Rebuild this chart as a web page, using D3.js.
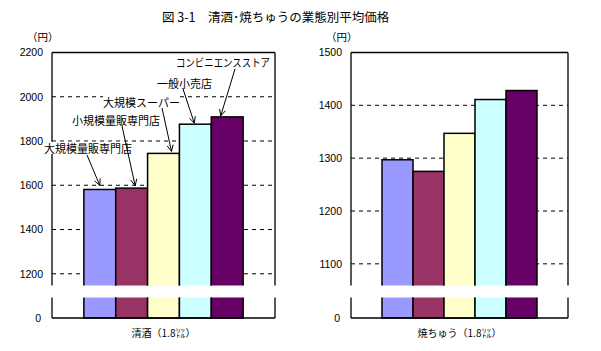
<!DOCTYPE html>
<html>
<head>
<meta charset="utf-8">
<script src="https://cdn.jsdelivr.net/npm/d3@7"></script>
<style>
  body { margin: 0; background: #fff; }
  text { font-family: "Noto Sans CJK JP", sans-serif; fill: #000; }
  .tick text { font-family: "Liberation Sans", Arial, sans-serif; font-size: 10.5px; }
</style>
</head>
<body>
<script>
// data
const stores = ['大規模量販専門店', '小規模量販専門店', '大規模スーパー', '一般小売店', 'コンビニエンスストア'];
const colors = ['#9999ff', '#993366', '#ffffcc', '#ccffff', '#660066'];
const sakePrice = [1581, 1587, 1744, 1876, 1909];
const shochuPrice = [1297, 1275, 1347, 1411, 1428];
const sakeTicks = [1200, 1400, 1600, 1800, 2000, 2200];
const shochuTicks = [1100, 1200, 1300, 1400, 1500];
const lowTicks = [0];
const panelLabels = ['清酒（1.8㍑）', '焼ちゅう（1.8㍑）'];
const title = '図 3-1　清酒･焼ちゅうの業態別平均価格';
const unit = '（円）';

const W = 601, H = 351;
const plotTop = 52.5, breakY = 285.5, lowY = 297.5, plotBottom = 318;

const panels = [
  { values: sakePrice, ticks: sakeTicks, domain: [1147, 2200], left: 52, right: 275, label: panelLabels[0] },
  { values: shochuPrice, ticks: shochuTicks, domain: [1059, 1500], left: 351, right: 568, label: panelLabels[1] }
];

// callout layout for the left panel: label start, line start, tip offset from bar top centre
const callouts = [
  { tx: 44, ty: 149, sx: 87, sy: 155, dx: 0, dy: -4 },
  { tx: 72, ty: 121, sx: 122, sy: 126, dx: 3.5, dy: -2.5 },
  { tx: 103, ty: 103, sx: 162, sy: 108, dx: 8, dy: -2 },
  { tx: 157, ty: 84, sx: 183, sy: 89, dx: -1, dy: -1 },
  { tx: 176, ty: 63, sx: 235, sy: 69, dx: -6.5, dy: -1, len: 94 }
];

const svg = d3.select('body').append('svg')
  .attr('width', W)
  .attr('height', H);

svg.append('text')
  .attr('x', 162)
  .attr('y', 18)
  .attr('dy', '0.35em')
  .style('font-size', '12.5px')
  .text(title);

const defs = svg.append('defs');

panels.forEach((p, i) => {
  const y = d3.scaleLinear().domain(p.domain).range([breakY, plotTop]);
  const y0 = d3.scaleLinear().domain([0, 100]).range([plotBottom, lowY]);
  const x = d3.scaleBand().domain(stores).range([p.left, p.right]).paddingInner(0).paddingOuter(1);
  const g = svg.append('g');

  // clip regions for the broken axis
  defs.append('clipPath').attr('id', 'up' + i)
    .append('rect').attr('x', p.left - 5).attr('y', plotTop - 5).attr('width', p.right - p.left + 10).attr('height', breakY - plotTop + 5);
  defs.append('clipPath').attr('id', 'lo' + i)
    .append('rect').attr('x', p.left - 5).attr('y', lowY).attr('width', p.right - p.left + 10).attr('height', plotBottom - lowY + 5);

  // grid
  g.selectAll('.grid')
    .data(p.ticks.filter(t => t < p.domain[1]))
    .join('line')
    .attr('x1', p.left).attr('x2', p.right)
    .attr('y1', d => y(d)).attr('y2', d => y(d))
    .attr('stroke', '#000')
    .attr('stroke-dasharray', '4,4');

  // bars, upper part
  g.append('g').attr('clip-path', `url(#up${i})`)
    .selectAll('rect')
    .data(p.values)
    .join('rect')
    .attr('x', (d, j) => x(stores[j]))
    .attr('y', d => y(d))
    .attr('width', x.bandwidth())
    .attr('height', d => breakY + 6 - y(d))
    .attr('fill', (d, j) => colors[j])
    .attr('stroke', '#000')
    .attr('stroke-width', 1.5);

  // bars, lower part
  g.append('g').attr('clip-path', `url(#lo${i})`)
    .selectAll('rect')
    .data(p.values)
    .join('rect')
    .attr('x', (d, j) => x(stores[j]))
    .attr('y', lowY - 6)
    .attr('width', x.bandwidth())
    .attr('height', d => y0(0) - lowY + 6)
    .attr('fill', (d, j) => colors[j])
    .attr('stroke', '#000')
    .attr('stroke-width', 1.5);

  // frame
  const frame = [
    [p.left, plotTop, p.right, plotTop],
    [p.left, plotBottom, p.right, plotBottom],
    [p.left, plotTop, p.left, breakY],
    [p.left, lowY, p.left, plotBottom],
    [p.right, plotTop, p.right, breakY],
    [p.right, lowY, p.right, plotBottom]
  ];
  g.selectAll('.frame')
    .data(frame)
    .join('line')
    .attr('x1', d => d[0]).attr('y1', d => d[1])
    .attr('x2', d => d[2]).attr('y2', d => d[3])
    .attr('stroke', '#000')
    .attr('stroke-width', 1.3);

  // axes
  const ax = g.append('g')
    .attr('transform', `translate(${p.left},0)`)
    .call(d3.axisLeft(y).tickValues(p.ticks).tickFormat(d3.format('d')).tickSize(0).tickPadding(9));
  ax.select('.domain').remove();
  const ax0 = g.append('g')
    .attr('transform', `translate(${p.left},0)`)
    .call(d3.axisLeft(y0).tickValues(lowTicks).tickFormat(d3.format('d')).tickSize(0).tickPadding(11));
  ax0.select('.domain').remove();

  g.append('text')
    .attr('x', p.left - 25)
    .attr('y', 37)
    .attr('dy', '0.35em')
    .style('font-size', '10.5px')
    .text(unit);

  g.append('text')
    .attr('x', (p.left + p.right) / 2)
    .attr('y', 333)
    .attr('dy', '0.35em')
    .attr('text-anchor', 'middle')
    .style('font-size', '10px')
    .text(p.label);

  if (i === 0) {
    const cg = g.append('g');
    callouts.forEach((c, j) => {
      const tipX = x(stores[j]) + x.bandwidth() / 2 + c.dx;
      const tipY = y(p.values[j]) + c.dy;
      cg.append('line')
        .attr('x1', c.sx).attr('y1', c.sy)
        .attr('x2', tipX).attr('y2', tipY)
        .attr('stroke', '#000');
      const a = Math.atan2(tipY - c.sy, tipX - c.sx);
      const barb = 7, spread = 0.45;
      cg.append('path')
        .attr('d', `M${tipX - barb * Math.cos(a - spread)},${tipY - barb * Math.sin(a - spread)}L${tipX},${tipY}L${tipX - barb * Math.cos(a + spread)},${tipY - barb * Math.sin(a + spread)}`)
        .attr('fill', 'none')
        .attr('stroke', '#000');
      const bg = cg.append('rect').attr('fill', '#fff');
      const t = cg.append('text')
        .attr('x', c.tx)
        .attr('y', c.ty)
        .attr('dy', '0.35em')
        .style('font-size', '11px')
        .text(stores[j]);
      if (c.len) t.attr('textLength', c.len).attr('lengthAdjust', 'spacingAndGlyphs');
      const b = t.node().getBBox();
      bg.attr('x', b.x).attr('y', b.y + 2).attr('width', b.width).attr('height', b.height - 4);
    });
  }
});
</script>
</body>
</html>
